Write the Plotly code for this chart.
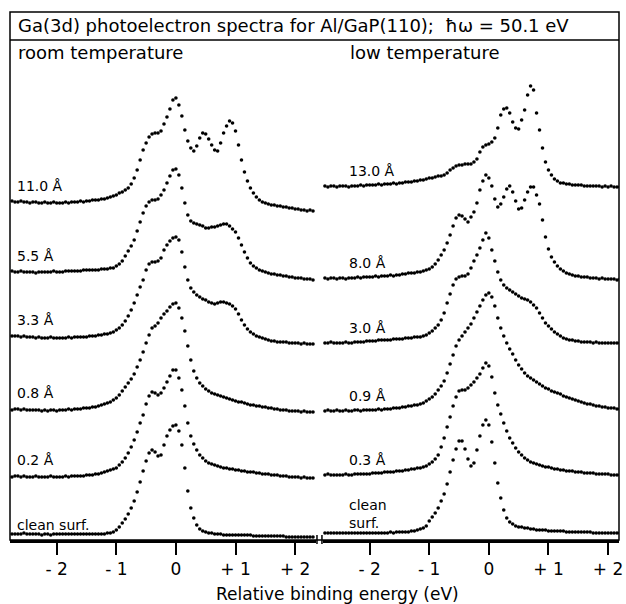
import numpy as np
import plotly.graph_objects as go

# ---------------- data ----------------
# energy grids (eV, relative binding energy), 0.05 eV sampling
energy_left = np.round(-2.75 + 0.05 * np.arange(102), 2)
energy_right = np.round(-2.75 + 0.05 * np.arange(105), 2)

# room temperature spectra (arb. units above each trace's own baseline)
rt_clean = [3,
            3,3,3,4,3,3,3,3,3,2,
            3,3,2,3,3,3,3,3,3,3,
            3,3,3,3,3,3,3,3,3,3,
            3,4,4,5,7,10,14,18,23,29,
            36,45,55,66,76,84,87,85,81,82,
            92,101,107,111,112,106,92,69,46,29,
            19,12,8,6,5,4,4,3,3,3,
            2,2,2,2,2,2,2,2,2,2,
            1,1,1,1,1,1,1,1,1,1,
            1,0,0,0,0,0,0,0,0,0,
            0]
rt_02 = [1,
         2,2,1,2,1,1,1,2,1,1,
         1,1,2,1,1,1,1,2,1,2,
         2,2,2,2,3,3,3,4,4,5,
         6,7,8,9,10,13,16,20,25,31,
         38,46,55,63,74,82,86,85,83,85,
         90,96,102,108,108,100,88,72,55,42,
         34,28,23,20,17,15,14,13,12,11,
         10,10,9,9,8,8,7,7,6,6,
         6,5,5,4,4,4,3,3,3,2,
         2,2,1,1,1,1,0,1,0,0,
         0]
rt_08 = [2,
         3,3,2,3,2,2,2,2,2,1,
         2,1,2,2,1,2,2,2,3,2,
         3,3,3,4,4,4,5,5,6,7,
         8,9,10,12,14,17,21,25,29,33,
         38,45,52,60,69,77,84,86,89,94,
         98,101,105,108,109,104,94,81,66,52,
         41,34,29,26,23,21,19,18,17,16,
         15,14,13,12,11,10,10,9,8,7,
         7,6,6,5,5,4,4,3,3,2,
         2,2,1,1,1,1,0,1,0,0,
         0]
rt_33 = [8,
         8,8,7,8,7,7,7,6,7,6,
         6,6,7,6,6,6,6,6,7,6,
         7,7,7,7,7,8,8,8,9,9,
         10,10,11,12,14,16,19,23,28,34,
         41,49,57,64,74,80,82,82,83,86,
         94,99,103,106,107,104,92,77,64,56,
         52,49,47,45,44,42,41,40,41,42,
         42,41,40,38,35,30,24,19,15,12,
         10,8,7,6,5,4,3,3,2,2,
         2,2,1,1,1,1,0,1,0,0,
         0]
rt_55 = [9,
         8,8,9,8,8,8,8,7,8,8,
         8,8,8,9,8,8,8,9,9,9,
         9,9,9,10,10,10,10,10,10,11,
         11,11,12,12,14,16,19,24,29,34,
         40,49,58,67,74,78,80,80,81,85,
         90,97,104,110,111,105,92,77,65,59,
         57,56,55,54,52,52,53,53,54,55,
         56,56,54,51,48,42,35,28,22,17,
         14,12,10,9,8,7,6,6,5,5,
         4,4,3,3,2,2,2,1,1,1,
         0]
rt_110 = [10,
          9,9,10,9,9,8,9,9,8,8,
          9,8,8,9,8,8,8,9,8,9,
          9,9,10,9,10,10,11,11,11,12,
          12,13,14,15,16,18,19,21,23,27,
          33,41,51,61,68,74,77,78,78,80,
          87,94,102,111,113,106,95,81,70,63,
          60,65,73,78,77,72,66,61,60,68,
          78,85,90,88,80,66,51,39,30,23,
          18,14,11,9,8,7,6,6,5,5,
          4,4,3,3,2,2,1,1,0,1,
          0]

# low temperature spectra
lt_clean = [0,0,0,0,0,
            0,0,0,0,0,0,0,0,0,0,
            0,0,0,0,0,0,0,1,0,1,
            1,1,1,1,2,2,3,4,5,7,
            12,16,20,25,32,39,49,61,73,84,
            92,92,84,74,67,70,83,97,108,113,
            108,91,70,50,35,23,15,11,9,7,
            6,6,5,5,4,4,3,3,3,3,
            2,2,2,2,2,2,1,1,1,1,
            1,1,1,1,1,0,0,0,0,0,
            0,0,0,0,0,0,0,0,0,0]
lt_03 = [0,1,0,0,0,
         0,0,1,0,0,1,1,1,1,1,
         1,2,2,2,2,3,3,3,3,4,
         4,4,5,5,6,6,7,7,8,9,
         11,13,16,20,28,37,48,58,69,78,
         84,85,85,87,90,93,97,101,107,112,
         109,98,82,70,61,52,44,37,32,27,
         23,20,17,15,13,12,11,10,9,8,
         8,7,6,6,5,5,4,4,4,3,
         3,3,2,2,2,2,1,1,1,1,
         1,0,0,0,0,0,0,0,0,0]
lt_09 = [0,1,0,0,1,
         0,0,1,0,0,1,1,0,1,1,
         1,1,1,2,1,2,2,2,3,3,
         3,4,4,5,5,6,6,7,8,10,
         12,14,17,21,25,30,38,47,56,65,
         71,75,79,83,87,93,99,105,111,116,
         118,114,105,93,83,75,68,62,57,51,
         46,42,38,35,33,31,29,27,25,23,
         22,20,19,18,17,15,14,13,12,11,
         10,9,8,7,7,6,5,5,4,4,
         3,3,3,2,2,2,1,1,1,1]
lt_30 = [0,0,1,0,0,
         0,0,1,0,0,1,1,1,1,2,
         2,2,2,3,3,3,3,3,4,4,
         4,4,5,5,5,6,6,6,7,8,
         10,12,15,18,23,30,40,49,58,64,
         66,67,67,69,75,82,88,95,103,110,
         105,93,82,71,63,58,55,53,51,49,
         47,45,44,43,41,38,35,30,25,20,
         17,14,11,9,7,5,4,3,3,2,
         2,1,1,1,1,0,1,0,0,0,
         0,0,0,0,0,0,0,0,0,0]
lt_80 = [2,1,2,2,1,
         2,2,1,2,2,2,3,2,3,3,
         3,3,4,3,4,4,4,5,4,5,
         5,6,6,7,7,7,8,8,9,10,
         11,13,16,20,25,30,37,45,54,62,
         65,64,61,58,63,68,77,90,99,105,
         102,94,81,73,76,83,91,94,88,79,
         71,72,80,88,93,93,85,76,60,43,
         31,23,18,14,11,9,7,6,5,4,
         4,3,3,3,2,2,2,1,2,1,
         1,1,1,0,1,0,0,0,0,0]
lt_130 = [1,0,1,1,0,
          1,1,1,0,1,1,1,2,1,2,
          2,2,2,3,2,3,3,3,4,3,
          4,4,5,5,5,6,6,7,7,8,
          9,9,10,11,11,12,14,17,19,21,
          22,22,23,23,23,25,28,35,40,42,
          43,45,49,59,72,78,79,74,65,59,
          58,67,77,92,101,97,74,57,39,25,
          17,12,8,6,4,4,3,3,2,2,
          2,2,1,1,1,1,1,1,0,1,
          0,1,0,0,0,0,0,0,0,0]

left_series = [rt_clean, rt_02, rt_08, rt_33, rt_55, rt_110]
left_labels = ["clean surf.", "0.2 Å", "0.8 Å", "3.3 Å", "5.5 Å", "11.0 Å"]
left_offsets = [3, 62, 128, 196, 260, 329]

right_series = [lt_clean, lt_03, lt_09, lt_30, lt_80, lt_130]
right_labels = ["clean<br>surf.", "0.3 Å", "0.9 Å", "3.0 Å", "8.0 Å", "13.0 Å"]
right_offsets = [7, 65, 129, 197, 260, 353]

tick_vals = [-2, -1, 0, 1, 2]
tick_text = ["- 2", "- 1", "0", "+ 1", "+ 2"]

title_text = "Ga(3d) photoelectron spectra for Al/GaP(110);  ħω = 50.1 eV"
panel_titles = ["room temperature", "low temperature"]
x_title = "Relative binding energy (eV)"

# ---------------- figure ----------------
W, H = 626, 604
ML, MR, MT, MB = 10, 3, 12, 64
PW, PH = W - ML - MR, H - MT - MB
FONT = "DejaVu Sans"
ZERO_L, ZERO_R, PX_PER_EV = 177, 492, 60
BREAK_L, BREAK_R = 318, 325


def px(x):
    return (x - ML) / PW


def py(y):
    return (H - MB - y) / PH


fig = go.Figure()
marker = dict(color="black", size=3.6, line=dict(width=0))
for vals, off in zip(left_series, left_offsets):
    fig.add_trace(go.Scatter(x=energy_left, y=np.array(vals) + off, mode="markers",
                             marker=marker, xaxis="x", yaxis="y", showlegend=False,
                             hoverinfo="skip"))
for vals, off in zip(right_series, right_offsets):
    fig.add_trace(go.Scatter(x=energy_right, y=np.array(vals) + off, mode="markers",
                             marker=marker, xaxis="x2", yaxis="y", showlegend=False,
                             hoverinfo="skip"))

axis_common = dict(tickmode="array", tickvals=tick_vals, ticktext=tick_text,
                   ticks="outside", ticklen=12, tickwidth=1.5, tickcolor="black",
                   showline=True, linewidth=2.5, linecolor="black",
                   showgrid=False, zeroline=False, anchor="y",
                   ticklabeloverflow="allow",
                   tickfont=dict(family=FONT, size=17, color="black"))

fig.update_layout(
    width=W, height=H, autosize=False,
    margin=dict(l=ML, r=MR, t=MT, b=MB),
    paper_bgcolor="white", plot_bgcolor="white",
    xaxis=dict(domain=[0, px(BREAK_L)],
               range=[(ML - ZERO_L) / PX_PER_EV, (BREAK_L - ZERO_L) / PX_PER_EV],
               **axis_common),
    xaxis2=dict(domain=[px(BREAK_R), 1],
                range=[(BREAK_R - ZERO_R) / PX_PER_EV, (W - MR - ZERO_R) / PX_PER_EV],
                **axis_common),
    yaxis=dict(domain=[0, 1], range=[0, PH], visible=False, fixedrange=True),
    font=dict(family=FONT, color="black"),
)

shapes = [
    dict(type="rect", xref="paper", yref="paper", x0=0, x1=1, y0=0, y1=1,
         line=dict(color="black", width=1.5)),
    dict(type="line", xref="paper", yref="paper", x0=0, x1=1, y0=py(40), y1=py(40),
         line=dict(color="black", width=1.5)),
]
for bx in (BREAK_L + 1, BREAK_R - 1):
    shapes.append(dict(type="line", xref="paper", yref="paper", x0=px(bx), x1=px(bx),
                       y0=py(544), y1=py(535), line=dict(color="black", width=1.5)))
fig.update_layout(shapes=shapes)

ann = []
ann.append(dict(text=title_text, xref="paper", yref="paper", x=px(16), y=py(26),
                xanchor="left", yanchor="middle", showarrow=False,
                font=dict(size=18)))
ann.append(dict(text=panel_titles[0], xref="paper", yref="paper", x=px(16), y=py(53),
                xanchor="left", yanchor="middle", showarrow=False, font=dict(size=18)))
ann.append(dict(text=panel_titles[1], xref="paper", yref="paper", x=px(350), y=py(53),
                xanchor="left", yanchor="middle", showarrow=False, font=dict(size=18)))
ann.append(dict(text=x_title, xref="paper", yref="paper", x=px(340), y=py(594),
                xanchor="center", yanchor="middle", showarrow=False, font=dict(size=17)))
for vals, off, lab in zip(left_series, left_offsets, left_labels):
    gap = -1 if lab.startswith("clean") else 6
    ann.append(dict(text=lab, xref="paper", yref="y", x=px(15), y=off + vals[1] + gap,
                    xanchor="left", yanchor="bottom", showarrow=False,
                    font=dict(size=14)))
for vals, off, lab in zip(right_series, right_offsets, right_labels):
    gap = 0 if lab.startswith("clean") else 5
    ann.append(dict(text=lab, xref="paper", yref="y", x=px(349), y=off + vals[5] + gap,
                    xanchor="left", yanchor="bottom", showarrow=False, align="left",
                    font=dict(size=14)))
fig.update_layout(annotations=ann)

fig.write_html("out.html", config={"displayModeBar": False},
               post_script="document.body.style.margin='0px';")
